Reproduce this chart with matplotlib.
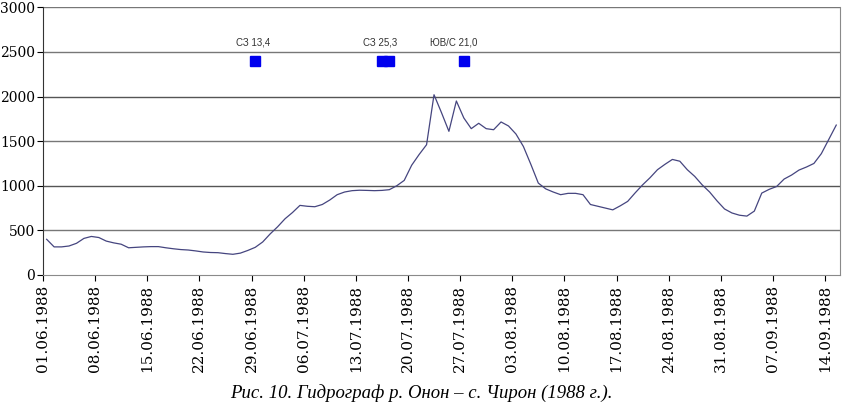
import numpy as np
import matplotlib
matplotlib.use('Agg')
import matplotlib.pyplot as plt

# daily discharge, 01.06.1988 .. 15.09.1988
flow = [400, 315, 315, 325, 355, 410, 432, 420, 380, 360,
        345, 305, 310, 315, 318, 318, 305, 294, 285, 280,
        270, 258, 252, 250, 240, 232, 245, 275, 310, 370,
        460, 540, 630, 700, 780, 770, 765, 790, 840, 900,
        930, 945, 950, 948, 945, 948, 956, 1000, 1060, 1230,
        1350, 1460, 2020, 1820, 1610, 1950, 1760, 1640, 1700, 1640,
        1628, 1715, 1670, 1580, 1440, 1240, 1030, 965, 930, 900,
        915, 915, 900, 790, 770, 750, 730, 775, 825, 920,
        1010, 1090, 1180, 1240, 1295, 1275, 1180, 1105, 1010, 930,
        830, 740, 695, 670, 660, 716, 918, 960, 992, 1075,
        1120, 1176, 1210, 1250, 1360, 1520, 1680]

tick_labels = ['01.06.1988', '08.06.1988', '15.06.1988', '22.06.1988',
               '29.06.1988', '06.07.1988', '13.07.1988', '20.07.1988',
               '27.07.1988', '03.08.1988', '10.08.1988', '17.08.1988',
               '24.08.1988', '31.08.1988', '07.09.1988', '14.09.1988']

# wind events (day index) and their labels
event_days = [28, 45, 46, 56]
event_level = 2400
event_text = ['СЗ 13,4', 'СЗ 25,3', 'ЮВ/С 21,0']
event_text_x = [28.2, 45.2, 55.2]

fig = plt.figure(figsize=(8.42, 4.05), dpi=100)
ax = fig.add_axes([0.051, 0.321, 0.9466, 0.661])

days = np.arange(len(flow)) + 0.5
ax.plot(days, flow, color='#45457f', lw=0.9)

ax.plot(np.array(event_days) + 0.5, [event_level] * len(event_days),
        's', color='#0000ee', ms=7.3, mec='#0000ee')
for tx, t in zip(event_text_x, event_text):
    ax.text(tx, 2610, t, ha='center', va='center', fontsize=7,
            family='Liberation Sans', color='#333333')

ax.set_xlim(0, 107)
ax.set_ylim(0, 3000)
ax.set_yticks(np.arange(0, 3001, 500))
ax.set_xticks(np.arange(0, 106, 7))
ax.set_xticklabels(tick_labels, rotation=90, family='DejaVu Serif', fontsize=11)
for lb in ax.get_yticklabels():
    lb.set_family('DejaVu Serif')
    lb.set_fontsize(10)

for v in range(500, 3001, 500):
    c = '#555555' if v in (1000, 2000) else '#777777'
    ax.axhline(v, color=c, lw=1.0, zorder=0)

ax.spines['top'].set_visible(False)
ax.spines['right'].set_color('#8a8a8a')
ax.spines['bottom'].set_color('#8a8a8a')
ax.spines['left'].set_color('#333333')
ax.tick_params(axis='x', direction='out', length=4, width=0.8, pad=3)
ax.tick_params(axis='y', direction='out', length=4, width=0.8, pad=1.5)

fig.text(0.5, 0.03, 'Рис. 10. Гидрограф р. Онон – с. Чирон (1988 г.).',
         ha='center', va='center', family='Liberation Serif',
         style='italic', fontsize=13.5)

fig.savefig('out.png', dpi=100)
